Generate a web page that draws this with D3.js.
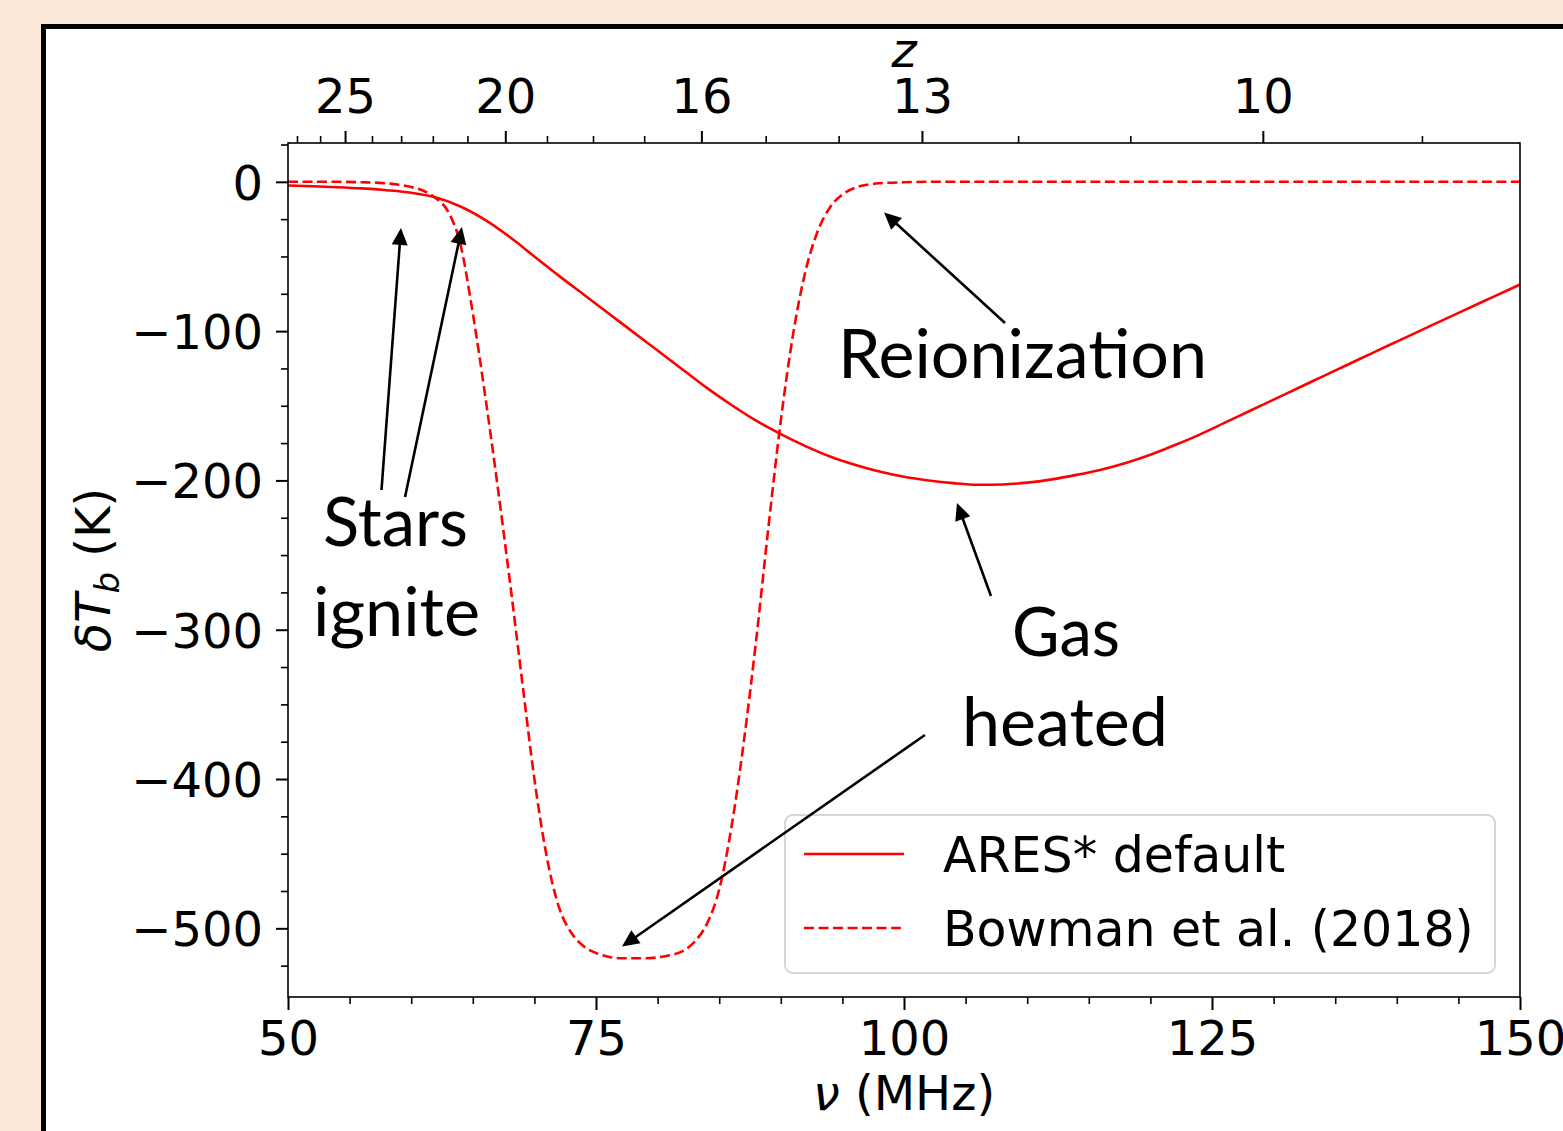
<!DOCTYPE html>
<html>
<head>
<meta charset="utf-8">
<script src="https://cdn.jsdelivr.net/npm/d3@7"></script>
<style>
  html, body { margin: 0; padding: 0; background: #fde9d9; overflow: hidden; }
  svg { display: block; }
</style>
</head>
<body>
<svg id="chart" width="1563" height="1131"></svg>
<script>
// Global 21-cm signal: sky-averaged brightness temperature vs observed frequency.
const NU_21 = 1420.4; // rest frequency of the 21-cm line, MHz

// ARES* default model (solid)
const aresNu = [50, 52, 54, 56, 58, 60, 62, 64, 66, 68, 70, 72, 74, 76, 78, 80, 82, 84, 86, 88,
  90, 92, 94, 96, 98, 100, 102, 104, 106, 108, 110, 112, 114, 116, 118, 120, 122, 124, 126, 128,
  130, 132, 134, 136, 138, 140, 142, 144, 146, 148, 150];
const aresT = [-2.5, -3, -3.6, -4.4, -5.6, -7.3, -10.5, -16.5, -25.5, -37, -50, -63, -75.5, -88, -100.5, -113, -125.5, -138, -149.5, -160,
  -169, -177, -184, -189.5, -194, -197.5, -200, -201.8, -202.9, -202.7, -201.5, -199.3, -196.3, -192.8, -188.3, -182.8, -176.3, -169.3, -161.5, -153.7,
  -145.9, -138.1, -130.3, -122.5, -114.7, -107, -99.3, -91.6, -84, -76.4, -68.8];

// Bowman et al. (2018) absorption profile (dashed)
const bowmanNu = [50, 54, 56, 58, 59, 60, 61, 62, 63, 64, 65, 66, 67, 68, 69, 70, 71, 72, 73, 74,
  75, 76, 77, 78, 79, 80, 81, 82, 83, 84, 85, 86, 87, 88, 89, 90, 91, 92, 93, 94,
  95, 96, 97, 98, 100, 102, 110, 120, 130, 140, 150];
const bowmanT = [0, 0, -0.3, -1, -2, -3.5, -6, -11, -20, -42, -88, -143, -203, -267, -334, -400, -452, -486, -503, -512,
  -516.5, -519, -520, -520, -520, -519.5, -518, -515.5, -509, -497, -474, -432, -375, -307, -231, -160, -102, -60, -33, -17,
  -8.5, -4, -2, -1, -0.3, 0, 0, 0, 0, 0, 0];

const seriesNames = ["ARES* default", "Bowman et al. (2018)"];

// axis ticks
const xMajorTicks = [50, 75, 100, 125, 150];
const xMinorTicks = [55, 60, 65, 70, 80, 85, 90, 95, 105, 110, 115, 120, 130, 135, 140, 145];
const yMajorTicks = [0, -100, -200, -300, -400, -500];
const yMinorTicks = [25, -25, -50, -75, -125, -150, -175, -225, -250, -275, -325, -350, -375,
  -425, -450, -475, -525];
const zMajorTicks = [25, 20, 16, 13, 10];
const zMinorTicks = [27, 26, 24, 23, 22, 21, 19, 18, 17, 15, 14, 12, 11, 9];

// annotation labels (data coordinates of text anchor)
const noteLines = ["Reionization", "Stars", "ignite", "Gas", "heated"];
const noteNu = [94.64, 58.73, 58.81, 113.15, 113.07];
const noteT = [-131.4, -243.9, -304.2, -317.6, -377.9];
const noteAnchor = ["start", "middle", "middle", "middle", "middle"];
const noteWidth = [369, 145, 167, 108, 206];

// annotation arrows: tail -> head, data coordinates
const arrowFromNu = [57.59, 59.5, 108.2, 107.06, 101.7];
const arrowFromT = [-206.4, -211.1, -94.6, -277.4, -370.5];
const arrowToNu = [59.17, 64.12, 98.38, 104.3, 77.11];
const arrowToT = [-30.9, -30.3, -20.5, -215.1, -512.2];

const FONT = "DejaVu Sans";
const FS = 48;

const svg = d3.select("#chart");

// white page with heavy black frame
svg.append("rect")
  .attr("x", 43.5).attr("y", 26.5)
  .attr("width", 1700).attr("height", 1300)
  .attr("fill", "#ffffff").attr("stroke", "#000").attr("stroke-width", 5);

const plot = { left: 288, right: 1520, top: 143, bottom: 997 };
const x = d3.scaleLinear().domain([50, 150]).range([plot.left, plot.right]);
const y = d3.scaleLinear().domain([-546, 26]).range([plot.bottom, plot.top]);
const zToNu = z => NU_21 / (1 + z);
const minus = d => d < 0 ? "\u2212" + Math.abs(d) : String(d);

svg.append("clipPath").attr("id", "clip")
  .append("rect")
  .attr("x", plot.left).attr("y", plot.top)
  .attr("width", plot.right - plot.left).attr("height", plot.bottom - plot.top);

// curves
const line = d3.line()
  .x(d => x(d[0])).y(d => y(d[1]))
  .curve(d3.curveMonotoneX);

const aresData = aresNu.map((v, i) => [v, aresT[i]]);
const bowmanData = bowmanNu.map((v, i) => [v, bowmanT[i]]);

const curves = svg.append("g").attr("clip-path", "url(#clip)");
curves.append("path").datum(aresData)
  .attr("d", line).attr("fill", "none")
  .attr("stroke", "#ff0000").attr("stroke-width", 2.6);
curves.append("path").datum(bowmanData)
  .attr("d", line).attr("fill", "none")
  .attr("stroke", "#ff0000").attr("stroke-width", 2.6)
  .attr("stroke-dasharray", "10,4.5");

// axes
function styleAxis(g, width) {
  g.select(".domain").remove();
  g.selectAll(".tick line").attr("stroke", "#000").attr("stroke-width", width);
  g.selectAll(".tick text")
    .attr("font-family", FONT).attr("font-size", FS).attr("fill", "#000");
}

svg.append("g").attr("transform", `translate(0,${plot.bottom})`)
  .call(d3.axisBottom(x).tickValues(xMajorTicks).tickSize(13).tickPadding(11).tickSizeOuter(0))
  .call(g => styleAxis(g, 2));
svg.append("g").attr("transform", `translate(0,${plot.bottom})`)
  .call(d3.axisBottom(x).tickValues(xMinorTicks).tickSize(7).tickFormat("").tickSizeOuter(0))
  .call(g => styleAxis(g, 1.6));

svg.append("g").attr("transform", `translate(${plot.left},0)`)
  .call(d3.axisLeft(y).tickValues(yMajorTicks).tickSize(12).tickPadding(13)
    .tickFormat(minus).tickSizeOuter(0))
  .call(g => styleAxis(g, 2))
  .call(g => g.selectAll(".tick text").attr("dy", "0.36em"));
svg.append("g").attr("transform", `translate(${plot.left},0)`)
  .call(d3.axisLeft(y).tickValues(yMinorTicks).tickSize(7).tickFormat("").tickSizeOuter(0))
  .call(g => styleAxis(g, 1.6));

// redshift axis along the top
svg.append("g").attr("transform", `translate(0,${plot.top})`)
  .call(d3.axisTop(x).tickValues(zMajorTicks.map(zToNu)).tickSize(12).tickPadding(18)
    .tickFormat(v => Math.round(NU_21 / v - 1)).tickSizeOuter(0))
  .call(g => styleAxis(g, 2));
svg.append("g").attr("transform", `translate(0,${plot.top})`)
  .call(d3.axisTop(x).tickValues(zMinorTicks.map(zToNu)).tickSize(7).tickFormat("").tickSizeOuter(0))
  .call(g => styleAxis(g, 1.6));

// spines
svg.append("rect")
  .attr("x", plot.left).attr("y", plot.top)
  .attr("width", plot.right - plot.left).attr("height", plot.bottom - plot.top)
  .attr("fill", "none").attr("stroke", "#000").attr("stroke-width", 1.6);

// axis titles
const xTitle = svg.append("text")
  .attr("x", (plot.left + plot.right) / 2).attr("y", 1110)
  .attr("text-anchor", "middle")
  .attr("font-family", FONT).attr("font-size", FS);
xTitle.append("tspan").attr("font-style", "italic").text("\u03BD");
xTitle.append("tspan").text(" (MHz)");

svg.append("text")
  .attr("x", (plot.left + plot.right) / 2).attr("y", 67)
  .attr("text-anchor", "middle")
  .attr("font-family", FONT).attr("font-size", FS).attr("font-style", "italic")
  .text("z");

const yTitle = svg.append("text")
  .attr("transform", `translate(110,${(plot.top + plot.bottom) / 2}) rotate(-90)`)
  .attr("text-anchor", "middle")
  .attr("font-family", FONT).attr("font-size", FS);
yTitle.append("tspan").attr("font-style", "italic").text("\u03B4T");
yTitle.append("tspan").attr("font-style", "italic").attr("font-size", 34).attr("dy", 9).text("b");
yTitle.append("tspan").attr("dy", -9).text(" (K)");

// legend
const legend = svg.append("g");
legend.append("rect")
  .attr("x", 785).attr("y", 815).attr("width", 710).attr("height", 158)
  .attr("rx", 8).attr("ry", 8)
  .attr("fill", "#ffffff").attr("fill-opacity", 0.8)
  .attr("stroke", "#d6d6d6").attr("stroke-width", 2);
seriesNames.forEach((name, i) => {
  const yy = 854 + i * 74;
  legend.append("line")
    .attr("x1", 804).attr("x2", 904).attr("y1", yy).attr("y2", yy)
    .attr("stroke", "#ff0000").attr("stroke-width", 2.6)
    .attr("stroke-dasharray", i === 1 ? "10,4.5" : null);
  legend.append("text")
    .attr("x", 943).attr("y", yy + 18)
    .attr("font-family", FONT).attr("font-size", 49)
    .text(name);
});

// annotations
const notes = svg.append("g");
noteLines.forEach((t, i) => {
  notes.append("text")
    .attr("x", x(noteNu[i])).attr("y", y(noteT[i]))
    .attr("text-anchor", noteAnchor[i])
    .attr("font-family", "Lato").attr("font-size", 68)
    .attr("textLength", noteWidth[i]).attr("lengthAdjust", "spacingAndGlyphs")
    .text(t);
});

const HEAD_LEN = 17, HEAD_HALF = 8;
arrowFromNu.forEach((_, i) => {
  const x0 = x(arrowFromNu[i]), y0 = y(arrowFromT[i]);
  const x1 = x(arrowToNu[i]), y1 = y(arrowToT[i]);
  const len = Math.hypot(x1 - x0, y1 - y0);
  const ux = (x1 - x0) / len, uy = (y1 - y0) / len;
  const bx = x1 - ux * HEAD_LEN, by = y1 - uy * HEAD_LEN;
  notes.append("line")
    .attr("x1", x0).attr("y1", y0).attr("x2", bx + ux * 2).attr("y2", by + uy * 2)
    .attr("stroke", "#000").attr("stroke-width", 2.6);
  notes.append("path")
    .attr("d", `M${x1},${y1}L${bx - uy * HEAD_HALF},${by + ux * HEAD_HALF}L${bx + uy * HEAD_HALF},${by - ux * HEAD_HALF}Z`)
    .attr("fill", "#000");
});
</script>
</body>
</html>
